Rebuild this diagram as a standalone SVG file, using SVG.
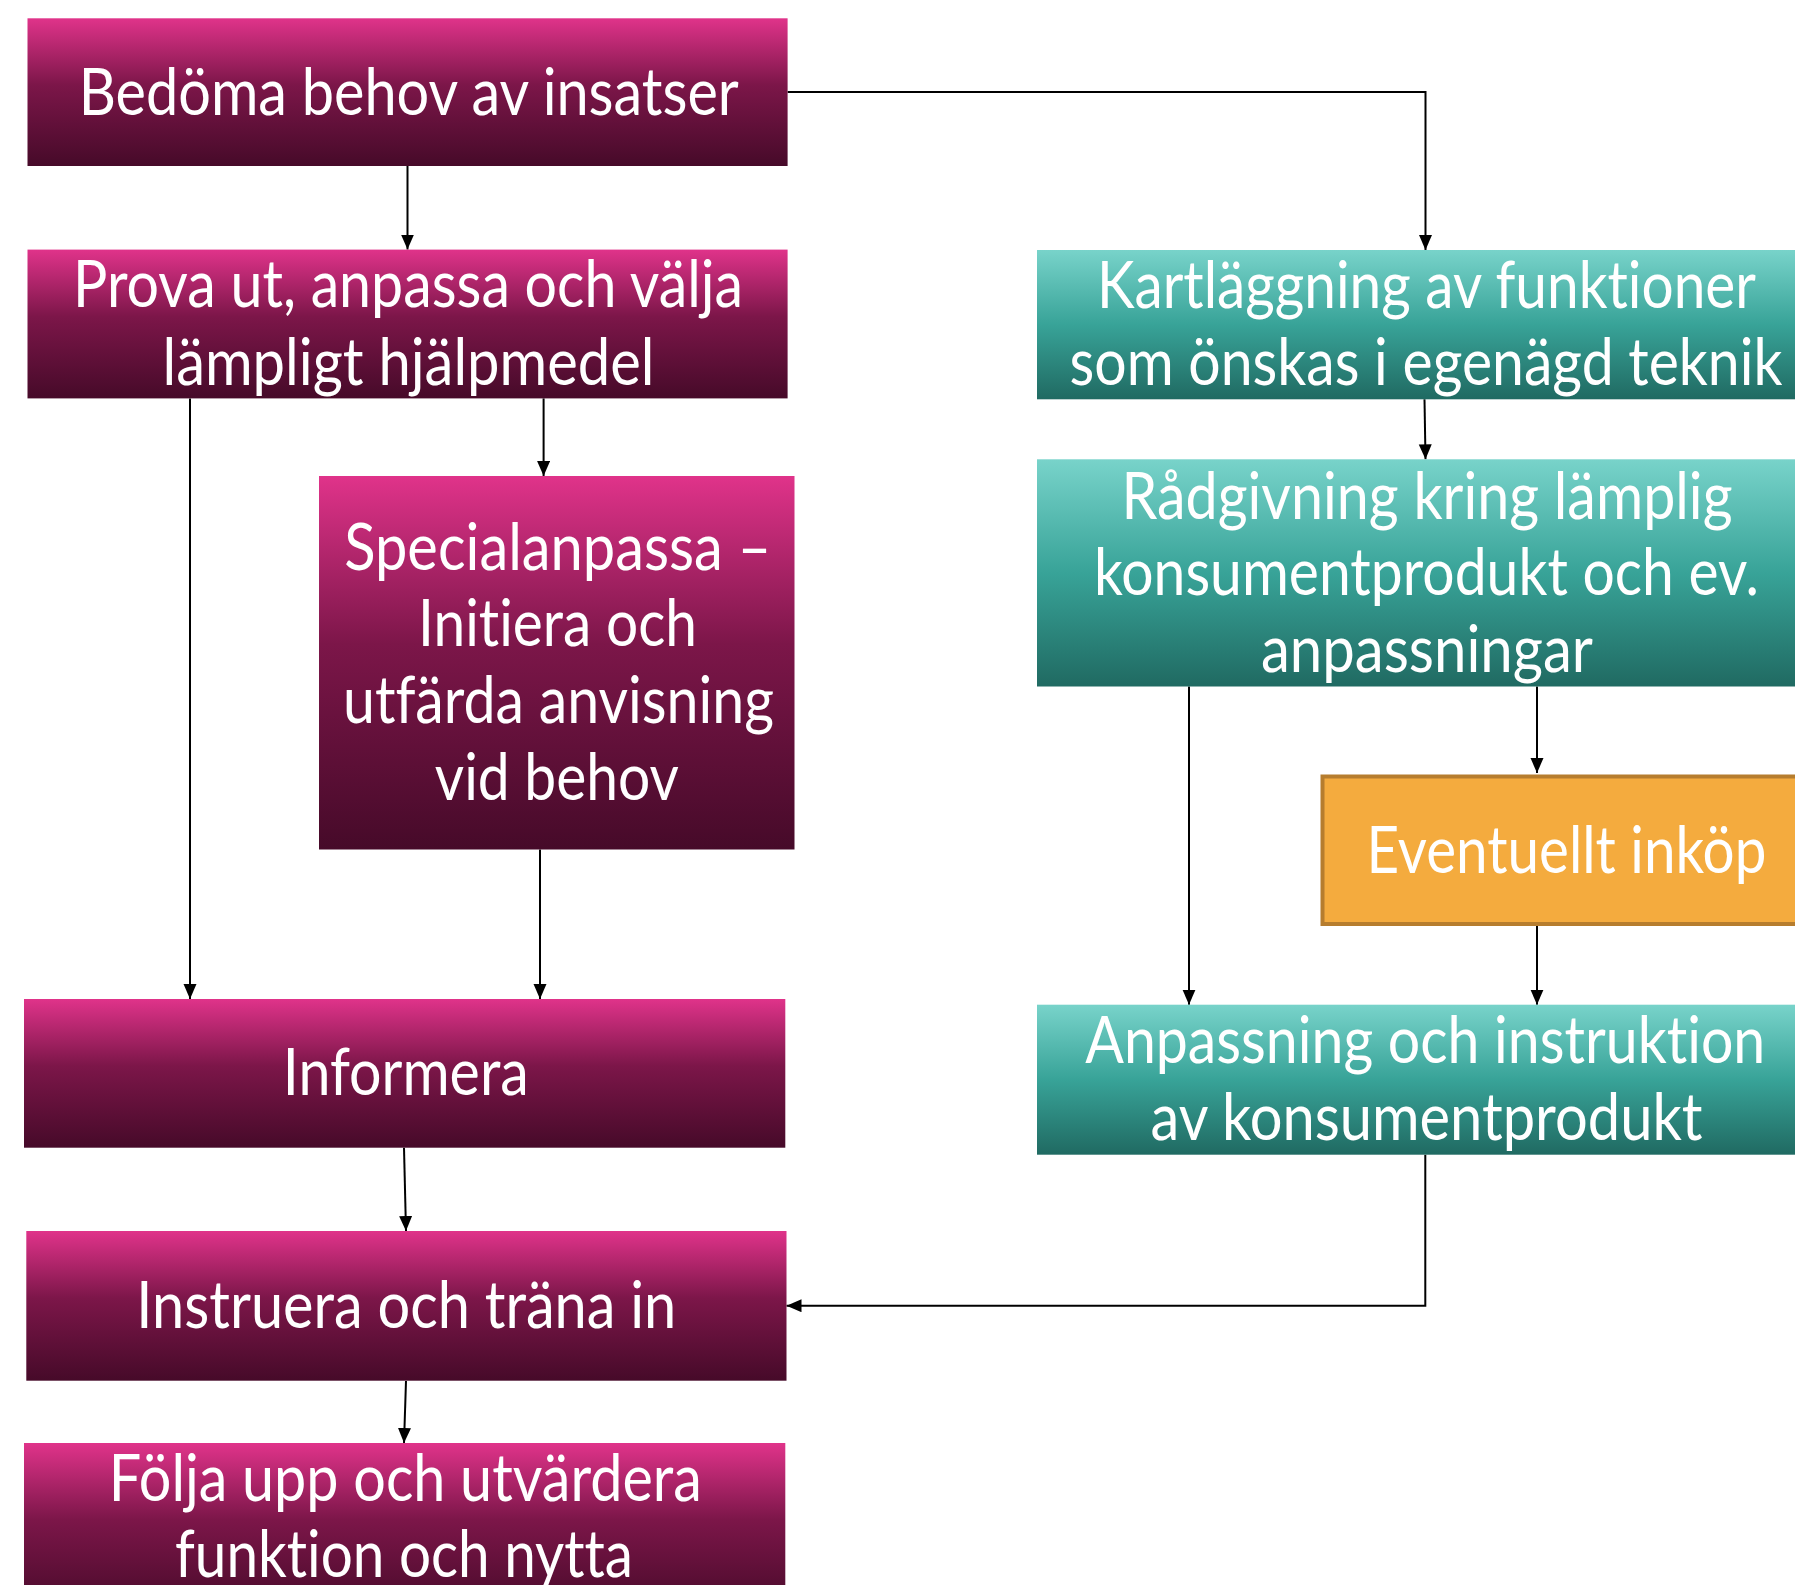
<svg xmlns="http://www.w3.org/2000/svg" width="1795" height="1585" viewBox="0 0 1795 1585">
  <defs>
    <linearGradient id="gMag" x1="0" y1="0" x2="0" y2="1">
      <stop offset="0" stop-color="#e0338a"/>
      <stop offset="0.45" stop-color="#7c1649"/>
      <stop offset="1" stop-color="#460a29"/>
    </linearGradient>
    <linearGradient id="gTeal" x1="0" y1="0" x2="0" y2="1">
      <stop offset="0" stop-color="#78d3ca"/>
      <stop offset="0.5" stop-color="#38a398"/>
      <stop offset="1" stop-color="#206a62"/>
    </linearGradient>
    <marker id="arr" markerUnits="userSpaceOnUse" markerWidth="16" markerHeight="14" refX="15" refY="6.5" orient="auto">
      <path d="M0,0 L15,6.5 L0,13 z" fill="#000"/>
    </marker>
    <style>
      .mag { fill: url(#gMag); }
      .teal { fill: url(#gTeal); }
      .org { fill: #f4ab3e; stroke: #b67d2e; stroke-width: 4; }
      .t { font-family: Lato, "Open Sans", "Liberation Sans", sans-serif; font-size: 65px; fill: #ffffff; text-anchor: middle; font-variant-ligatures: none; font-feature-settings: "liga" 0, "clig" 0; }
      .c { fill: none; stroke: #000; stroke-width: 2; marker-end: url(#arr); }
    </style>
  </defs>
  <rect width="1795" height="1585" fill="#ffffff"/>

  <g id="connectors">
    <path class="c" d="M407.5,166 V249.5"/>
    <path class="c" d="M787.6,92 H1425.5 V250"/>
    <path class="c" d="M190,398.4 V999"/>
    <path class="c" d="M543.6,398.4 V476"/>
    <path class="c" d="M540,849.5 V999"/>
    <path class="c" d="M404,1147.7 L406,1231"/>
    <path class="c" d="M406,1381 L404,1443"/>
    <path class="c" d="M1424.5,399.3 L1425.5,459.3"/>
    <path class="c" d="M1189,686.5 V1004.7"/>
    <path class="c" d="M1537,686.5 V773"/>
    <path class="c" d="M1537,926 V1004.7"/>
    <path class="c" d="M1425.3,1154.7 V1305.7 H786.5"/>
  </g>

  <g id="n1">
    <rect class="mag" x="27.5" y="18.3" width="760.1" height="147.7"/>
    <text class="t" x="408.8" y="115" textLength="660" lengthAdjust="spacingAndGlyphs">Bedöma behov av insatser</text>
  </g>
  <g id="n2">
    <rect class="mag" x="27.5" y="249.6" width="760.1" height="148.8"/>
    <text class="t" x="408" y="307" textLength="670" lengthAdjust="spacingAndGlyphs">Prova ut, anpassa och välja</text>
    <text class="t" x="408.5" y="385" textLength="492" lengthAdjust="spacingAndGlyphs">lämpligt hjälpmedel</text>
  </g>
  <g id="n3">
    <rect class="mag" x="319" y="476" width="475.5" height="373.5"/>
    <text class="t" x="557.7" y="570" textLength="427" lengthAdjust="spacingAndGlyphs">Specialanpassa –</text>
    <text class="t" x="557.5" y="646" textLength="279" lengthAdjust="spacingAndGlyphs">Initiera och</text>
    <text class="t" x="558.5" y="723" textLength="431" lengthAdjust="spacingAndGlyphs">utfärda anvisning</text>
    <text class="t" x="556.8" y="799.5" textLength="244" lengthAdjust="spacingAndGlyphs">vid behov</text>
  </g>
  <g id="n4">
    <rect class="mag" x="24" y="999" width="761.3" height="148.7"/>
    <text class="t" x="405.8" y="1095" textLength="246" lengthAdjust="spacingAndGlyphs">Informera</text>
  </g>
  <g id="n5">
    <rect class="mag" x="26.3" y="1231" width="760.2" height="149.7"/>
    <text class="t" x="406.3" y="1328" textLength="540" lengthAdjust="spacingAndGlyphs">Instruera och träna in</text>
  </g>
  <g id="n6">
    <rect class="mag" x="24" y="1443" width="761.3" height="170"/>
    <text class="t" x="405.3" y="1501" textLength="593" lengthAdjust="spacingAndGlyphs">Följa upp och utvärdera</text>
    <text class="t" x="404" y="1577" textLength="458" lengthAdjust="spacingAndGlyphs">funktion och nytta</text>
  </g>
  <g id="nA">
    <rect class="teal" x="1037" y="250" width="778" height="149.3"/>
    <text class="t" x="1426.5" y="308.3" textLength="659" lengthAdjust="spacingAndGlyphs">Kartläggning av funktioner</text>
    <text class="t" x="1426" y="385" textLength="713" lengthAdjust="spacingAndGlyphs">som önskas i egenägd teknik</text>
  </g>
  <g id="nB">
    <rect class="teal" x="1037" y="459.3" width="778" height="227.2"/>
    <text class="t" x="1427" y="519" textLength="611" lengthAdjust="spacingAndGlyphs">Rådgivning kring lämplig</text>
    <text class="t" x="1426.4" y="595.4" textLength="665" lengthAdjust="spacingAndGlyphs">konsumentprodukt och ev.</text>
    <text class="t" x="1427" y="672" textLength="332" lengthAdjust="spacingAndGlyphs">anpassningar</text>
  </g>
  <g id="nO">
    <rect class="org" x="1322.5" y="776.5" width="495" height="147.5"/>
    <text class="t" x="1566.4" y="873" textLength="400" lengthAdjust="spacingAndGlyphs">Eventuellt inköp</text>
  </g>
  <g id="nC">
    <rect class="teal" x="1037" y="1004.7" width="778" height="150"/>
    <text class="t" x="1425.3" y="1063.3" textLength="680" lengthAdjust="spacingAndGlyphs">Anpassning och instruktion</text>
    <text class="t" x="1426.5" y="1140" textLength="552" lengthAdjust="spacingAndGlyphs">av konsumentprodukt</text>
  </g>
</svg>
